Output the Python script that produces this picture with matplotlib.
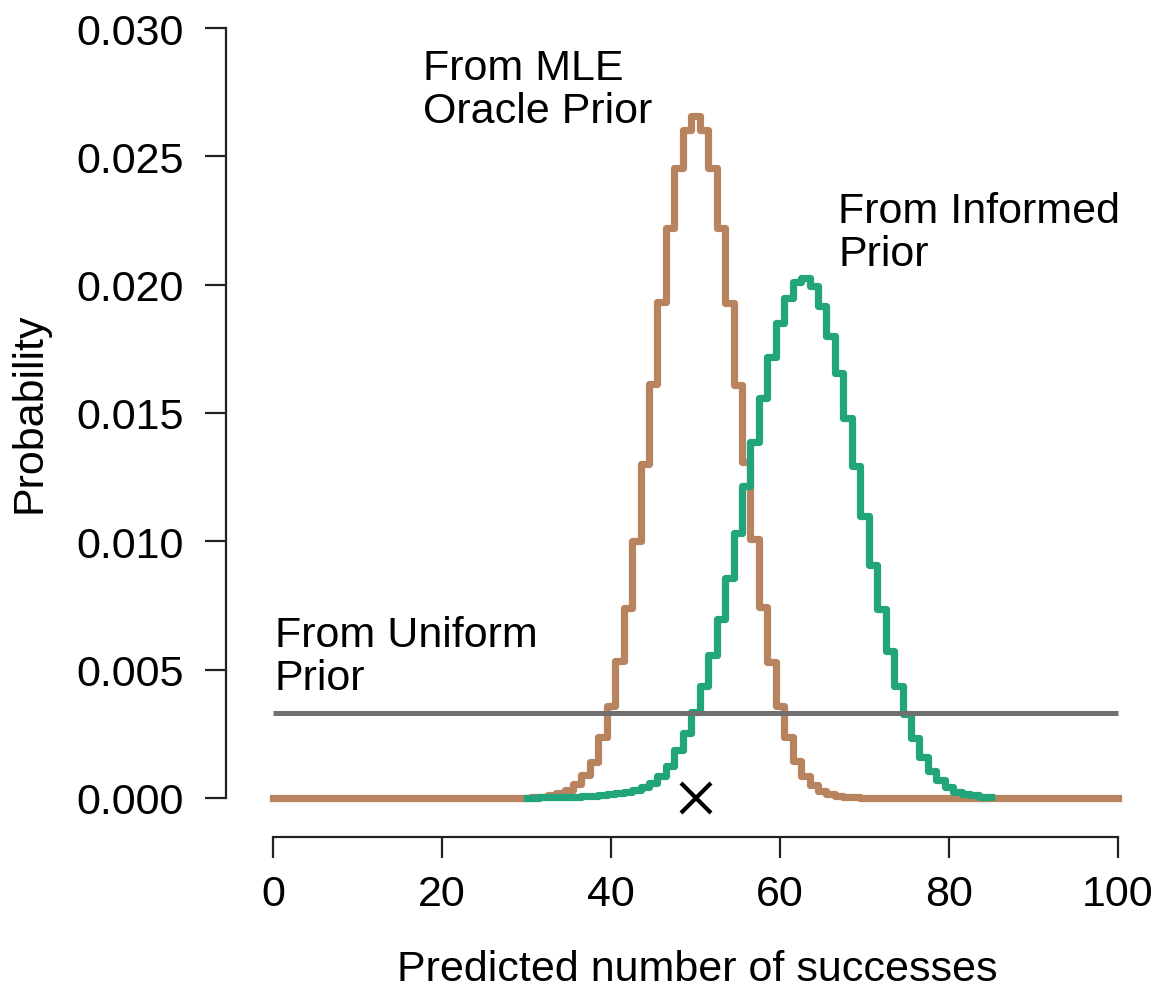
import matplotlib
matplotlib.use("Agg")
import matplotlib.pyplot as plt
import numpy as np

plt.rcParams['font.family'] = ['Liberation Sans', 'DejaVu Sans']

# predicted number of successes
successes = np.arange(0, 101)

# posterior predictive from the MLE oracle prior (0 outside 30..70)
mle_range = np.arange(30, 71)
mle_prob = [
    0.00001, 0.00002, 0.00005, 0.0001, 0.00018, 0.0003, 0.00055, 0.00088,
    0.0014, 0.00238, 0.0036, 0.00533, 0.00742, 0.01003, 0.01301, 0.01613,
    0.01934, 0.02221, 0.02455, 0.02604, 0.02656, 0.02604, 0.02455, 0.0222,
    0.0193, 0.0161, 0.0131, 0.0101, 0.00744, 0.0053, 0.00358, 0.00237,
    0.00144, 0.00085, 0.0005, 0.00028, 0.00015, 0.00008, 0.00004, 0.00002,
    0.00001,
]

# posterior predictive from the informed prior
informed_range = np.arange(30, 86)
informed_prob = [
    0.00001, 0.00001, 0.00002, 0.00002, 0.00003, 0.00004, 0.00005, 0.00007,
    0.00009, 0.00012, 0.00014, 0.00018, 0.00024, 0.00032, 0.00043, 0.00058,
    0.00085, 0.00125, 0.00185, 0.00255, 0.00334, 0.00438, 0.00557, 0.00697,
    0.00857, 0.01032, 0.01217, 0.01388, 0.01557, 0.01717, 0.01851, 0.01947,
    0.02012, 0.02025, 0.01994, 0.01916, 0.01799, 0.01655, 0.01479, 0.01292,
    0.01097, 0.00908, 0.00736, 0.00574, 0.00438, 0.00327, 0.00233, 0.00158,
    0.00106, 0.00071, 0.00042, 0.00025, 0.00016, 0.0001, 0.00005, 0.00002,
]

# flat predictive from the uniform prior
uniform_level = 0.0033

observed_successes = 50

y_ticks = [0.000, 0.005, 0.010, 0.015, 0.020, 0.025, 0.030]
y_tick_labels = ["0.000", "0.005", "0.010", "0.015", "0.020", "0.025", "0.030"]
x_ticks = [0, 20, 40, 60, 80, 100]

BROWN = "#b8845f"
GREEN = "#22a57a"
GRAY = "#707070"
FS = 31

mle_full = np.zeros(successes.size)
mle_full[mle_range - successes[0]] = mle_prob

fig = plt.figure(figsize=(11.61, 9.95), dpi=100)
ax = fig.add_axes([0.1944, 0.1578, 0.7977, 0.8182])

ax.step(successes, mle_full, where="mid", color=BROWN, lw=5.2, zorder=2)
ax.step(informed_range, informed_prob, where="mid", color=GREEN, lw=5.2, zorder=3)
ax.plot([successes[0], successes[-1]], [uniform_level, uniform_level],
        color=GRAY, lw=3.6, solid_capstyle="butt", zorder=4)
ax.plot([observed_successes], [0], marker="x", color="black", ms=21,
        mew=3, zorder=5)

ax.set_xlim(-5.6, 104)
ax.set_ylim(-0.00152, 0.0302)

for side in ("top", "right"):
    ax.spines[side].set_visible(False)
ax.spines["left"].set_bounds(0, 0.03)
ax.spines["bottom"].set_bounds(0, 100)
for side in ("left", "bottom"):
    ax.spines[side].set_linewidth(1.6)
    ax.spines[side].set_color("#222222")

ax.set_yticks(y_ticks)
ax.set_yticklabels(y_tick_labels)
ax.set_xticks(x_ticks)
ax.tick_params(axis="both", length=15, width=1.6, color="#222222",
               labelsize=FS)
ax.tick_params(axis="y", pad=15)
ax.tick_params(axis="x", pad=12)

ax.text(17.75, 0.02922, "From MLE\nOracle Prior", fontsize=FS,
        va="top", ha="left", linespacing=1.09)
ax.text(66.9, 0.02365, "From Informed\nPrior", fontsize=FS,
        va="top", ha="left", linespacing=1.09)
ax.text(0.2, 0.00713, "From Uniform\nPrior", fontsize=FS,
        va="top", ha="left", linespacing=1.09)

fig.text(697 / 1161, 1 - 970 / 995, "Predicted number of successes",
         fontsize=FS, ha="center", va="center")
fig.text(30 / 1161, 1 - 413 / 995, "Probability", fontsize=FS,
         ha="center", va="center", rotation=90)

fig.savefig("out.png", dpi=100)
